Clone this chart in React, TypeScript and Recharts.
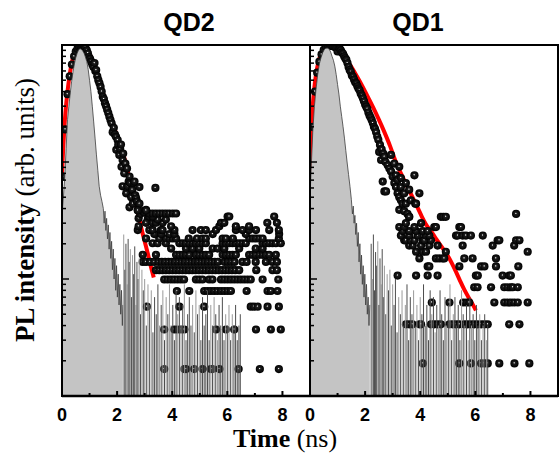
import React from 'react'
import { ComposedChart, Area, Line, Scatter, XAxis, YAxis, ReferenceArea } from 'recharts'

type Pt = [number, number]
type Row = [number, number[]]

const timeTicks = [0, 1, 2, 3, 4, 5, 6, 7, 8]
const intensityTicks = [
  1, 2, 3, 4, 5, 6, 7, 8, 9, 10, 20, 30, 40, 50, 60, 70, 80, 90,
  100, 200, 300, 400, 500, 600, 700, 800, 900, 1000,
]
const decades = [1, 10, 100, 1000]

// ---- QD2 (left panel) ----
const qd2Irf: Pt[] = [
  [0, 35], [0.05, 50], [0.1, 75], [0.15, 130], [0.2, 230], [0.25, 300], [0.3, 390], [0.35, 490],
  [0.4, 590], [0.45, 690], [0.5, 780], [0.55, 850], [0.6, 905], [0.65, 930], [0.7, 920], [0.75, 890],
  [0.8, 850], [0.85, 790], [0.9, 720], [0.95, 620], [1.0, 500], [1.05, 400], [1.1, 300], [1.15, 220],
  [1.2, 160], [1.25, 115], [1.3, 85], [1.35, 62], [1.4, 52], [1.45, 46], [1.5, 40], [1.53, 30],
  [1.56, 38], [1.59, 26], [1.62, 33], [1.65, 22], [1.68, 29], [1.71, 18], [1.74, 25], [1.77, 15],
  [1.8, 21], [1.83, 12], [1.86, 18], [1.89, 10], [1.92, 15], [1.95, 8], [1.98, 13], [2.01, 7],
  [2.04, 11], [2.07, 6], [2.1, 9], [2.13, 5], [2.16, 8], [2.19, 4], [2.21, 6],
]
const qd2IrfNoise: Pt[] = [
  [2.24, 24], [2.28, 12], [2.32, 20], [2.36, 9], [2.4, 22], [2.44, 14], [2.48, 18], [2.52, 7],
  [2.56, 16], [2.6, 11], [2.64, 19], [2.68, 6], [2.72, 14], [2.76, 10], [2.8, 15], [2.85, 5],
  [2.9, 12], [2.95, 8], [3.0, 10], [3.06, 4], [3.12, 9], [3.18, 6], [3.24, 8], [3.3, 3.5],
  [3.36, 7], [3.42, 5], [3.48, 9], [3.54, 4], [3.6, 6], [3.66, 8], [3.72, 3], [3.78, 7],
  [3.84, 5], [3.9, 9], [3.96, 4], [4.02, 6], [4.08, 3], [4.14, 8], [4.2, 5], [4.26, 7],
  [4.32, 4], [4.38, 6], [4.44, 9], [4.5, 3], [4.56, 5], [4.62, 7], [4.68, 4], [4.74, 6],
  [4.8, 3.5], [4.86, 8], [4.92, 5], [4.98, 6], [5.04, 3], [5.1, 7], [5.16, 4], [5.22, 5],
  [5.28, 8], [5.34, 3], [5.4, 6], [5.46, 4], [5.52, 7], [5.58, 5], [5.64, 3], [5.7, 6],
  [5.76, 4], [5.82, 7], [5.88, 3], [5.94, 5], [6.0, 4], [6.06, 6], [6.12, 3], [6.18, 5],
  [6.24, 4], [6.3, 6], [6.36, 3], [6.42, 4], [6.47, 5],
]
const qd2Fit: Pt[] = [
  [0, 80], [0.05, 140], [0.1, 220], [0.15, 310], [0.2, 400], [0.3, 600], [0.4, 780], [0.5, 900],
  [0.6, 965], [0.7, 985], [0.8, 975], [0.9, 920], [1.0, 840], [1.1, 740], [1.2, 650], [1.3, 540],
  [1.4, 450], [1.5, 380], [1.6, 320], [1.7, 270], [1.8, 235], [1.9, 195], [2.0, 165], [2.1, 140],
  [2.2, 120], [2.3, 100], [2.4, 80], [2.5, 64], [2.6, 52], [2.7, 42], [2.8, 33], [2.9, 26],
  [3.0, 21], [3.1, 17], [3.2, 13.5], [3.33, 10.3],
]
const qd2Decay: Pt[] = [
  [0.03, 75], [0.12, 190], [0.2, 380], [0.28, 540], [0.36, 680], [0.44, 800], [0.5, 880], [0.56, 930],
  [0.62, 960], [0.68, 975], [0.74, 985], [0.8, 975], [0.85, 950], [0.9, 900], [0.94, 850], [0.98, 790],
  [1.02, 760], [1.06, 720], [1.1, 680], [1.14, 650], [1.18, 700], [1.21, 600], [1.24, 610], [1.28, 540],
  [1.32, 500], [1.36, 470], [1.4, 438], [1.44, 400], [1.48, 361], [1.52, 345], [1.56, 318], [1.6, 300],
  [1.64, 280], [1.68, 262], [1.72, 244], [1.76, 228], [1.8, 214], [1.84, 180], [1.88, 196], [1.92, 172],
  [1.96, 164], [1.97, 127], [2.02, 154], [2.04, 140], [2.08, 115], [2.11, 130], [2.14, 141], [2.16, 91],
  [2.2, 104], [2.2, 62], [2.22, 118], [2.26, 80], [2.3, 97], [2.33, 54], [2.36, 88], [2.38, 62],
  [2.42, 68], [2.45, 75], [2.45, 41], [2.47, 66], [2.51, 50], [2.55, 58], [2.57, 44], [2.6, 66],
  [2.63, 68], [2.66, 52], [2.69, 49], [2.72, 46], [2.75, 39], [2.78, 33], [2.81, 44], [2.81, 61],
  [2.84, 36], [2.93, 38], [2.99, 37], [3.05, 39], [3.12, 33], [3.39, 60],
]
// tail: discrete count levels and the times where a point sits on them
const qd2Rows: Row[] = [
  [1.7, [3.71, 4.44, 4.5, 4.8, 5.1, 5.4, 5.46, 5.71, 6.41, 7.18, 7.87]],
  [3.7, [3.71, 4.08, 4.2, 4.32, 4.44, 5.59, 5.95, 6.25, 7.04, 7.58, 7.94]],
  [5.8, [3.08, 4.26, 5.16, 6.85, 6.97, 7.1, 7.46, 7.87]],
  [7.9, [4.17, 4.62, 5.16, 5.28, 5.4, 5.52, 5.64, 5.77, 5.89, 6.01, 6.13, 6.7, 7.46, 7.58, 7.82]],
  [9.9, [3.71, 3.83, 3.95, 4.07, 4.19, 4.31, 4.43, 4.86, 4.98, 5.1, 5.34, 5.46, 5.77, 5.89, 6.01, 6.13, 6.25, 6.37, 6.49, 6.61, 6.73, 6.85, 7.28, 7.85]],
  [11.9, [3.41, 3.53, 3.65, 3.77, 3.89, 4.01, 4.13, 4.25, 4.37, 4.49, 4.61, 4.73, 4.85, 4.97, 5.09, 5.21, 5.33, 5.45, 5.57, 5.69, 5.81, 5.93, 6.05, 6.17, 6.29, 6.43, 7.05, 7.64, 7.8]],
  [14, [2.93, 3.05, 3.2, 3.35, 3.5, 3.62, 3.74, 3.86, 3.98, 4.1, 4.22, 4.34, 4.46, 4.58, 4.7, 4.82, 4.94, 5.06, 5.18, 5.3, 5.42, 5.54, 5.66, 5.9, 6.02, 6.14, 6.26, 6.55, 6.7, 7.03, 7.4, 7.64, 7.8]],
  [16.1, [2.93, 3.41, 4.14, 4.26, 4.38, 4.5, 4.62, 4.86, 4.98, 5.1, 5.22, 5.34, 5.83, 5.95, 6.07, 6.19, 6.31, 6.79, 6.91, 7.03, 7.16, 7.28, 7.4, 7.52, 7.76]],
  [18.2, [3.96, 4.5, 4.74, 4.98, 5.47, 5.65, 5.89, 6.43, 7.03, 7.28]],
  [20.2, [3.29, 3.47, 3.77, 4.26, 4.38, 4.5, 4.62, 4.74, 4.86, 4.98, 5.1, 5.22, 5.83, 5.95, 6.07, 6.19, 6.31, 6.43, 6.55, 6.67, 7.28, 7.4, 7.52, 7.64, 7.76, 7.94]],
  [22.2, [3.05, 3.53, 3.78, 3.9, 4.02, 4.14, 4.6, 4.9, 5.1, 5.22, 5.83, 5.95, 6.2, 6.8, 6.92, 7.04, 7.16, 7.28, 7.87]],
  [24.2, [3.35, 3.6, 3.9, 4.08, 5.47, 6.67, 7.88]],
  [26.2, [2.75, 3.17, 3.29, 3.59, 3.65, 4.08, 4.74, 5.04, 5.22, 5.59, 6.31, 6.55, 6.79, 7.04, 7.52, 7.87]],
  [28.2, [2.78, 3.96, 5.71, 6.31, 6.79]],
  [30.2, [3.05, 3.29, 3.41, 3.65, 5.77, 5.89, 7.45, 7.8]],
  [32.2, [3.47, 3.77]],
  [34.2, [3.17, 3.29, 6.01, 6.07, 7.7]],
  [36.3, [3.17, 3.29, 3.41, 3.53, 3.65, 3.77, 3.89, 4.02, 4.14]],
  [38.5, [2.75, 3.05]],
]

// ---- QD1 (right panel) ----
const qd1Irf: Pt[] = [
  [0, 50], [0.04, 85], [0.1, 180], [0.16, 300], [0.22, 420], [0.28, 560], [0.34, 690], [0.4, 780],
  [0.46, 860], [0.52, 915], [0.58, 940], [0.64, 940], [0.7, 920], [0.75, 870], [0.8, 800], [0.85, 740],
  [0.9, 660], [0.95, 560], [1.0, 460], [1.05, 380], [1.1, 300], [1.15, 245], [1.2, 200], [1.25, 160],
  [1.3, 125], [1.35, 98], [1.4, 78], [1.45, 62], [1.5, 48], [1.54, 36], [1.57, 42], [1.6, 30],
  [1.63, 35], [1.66, 24], [1.69, 30], [1.72, 19], [1.75, 25], [1.78, 14], [1.81, 20], [1.84, 11],
  [1.87, 16], [1.9, 9], [1.93, 13], [1.96, 7], [1.99, 11], [2.02, 6], [2.05, 9], [2.08, 5],
  [2.11, 7], [2.14, 4], [2.17, 6],
]
const qd1IrfNoise: Pt[] = [
  [2.22, 20], [2.26, 10], [2.3, 24], [2.34, 8], [2.38, 17], [2.42, 13], [2.46, 21], [2.5, 6],
  [2.54, 15], [2.58, 9], [2.62, 18], [2.66, 7], [2.7, 13], [2.75, 5], [2.8, 11], [2.85, 8],
  [2.9, 12], [2.95, 4], [3.0, 9], [3.05, 6], [3.1, 10], [3.16, 3.5], [3.22, 7], [3.28, 5],
  [3.34, 8], [3.4, 4], [3.46, 6], [3.52, 9], [3.58, 3], [3.64, 7], [3.7, 5], [3.76, 8],
  [3.82, 4], [3.88, 6], [3.94, 3], [4.0, 7], [4.06, 5], [4.12, 9], [4.18, 4], [4.24, 6],
  [4.3, 3], [4.36, 8], [4.42, 5], [4.48, 7], [4.54, 3.5], [4.6, 6], [4.66, 4], [4.72, 8],
  [4.78, 5], [4.84, 3], [4.9, 7], [4.96, 4], [5.02, 6], [5.08, 9], [5.14, 3], [5.2, 5],
  [5.26, 7], [5.32, 4], [5.38, 6], [5.44, 3], [5.5, 8], [5.56, 5], [5.62, 4], [5.68, 6],
  [5.74, 3], [5.8, 7], [5.86, 4], [5.92, 5], [5.98, 3], [6.04, 6], [6.1, 4], [6.16, 5],
  [6.22, 3], [6.28, 4], [6.34, 5], [6.4, 3], [6.45, 4],
]
const qd1Fit: Pt[] = [
  [0, 70], [0.04, 150], [0.08, 250], [0.12, 350], [0.18, 480], [0.25, 620], [0.35, 780], [0.45, 890],
  [0.55, 955], [0.65, 985], [0.75, 990], [0.85, 970], [0.95, 930], [1.1, 860], [1.3, 760], [1.5, 650],
  [1.7, 540], [1.9, 445], [2.1, 360], [2.3, 290], [2.5, 230], [2.7, 180], [2.9, 138], [3.1, 102],
  [3.3, 80], [3.5, 64], [3.7, 51], [3.9, 41], [4.05, 34.5], [4.2, 29.5], [4.4, 25.5], [4.55, 22.5],
  [4.7, 20], [4.85, 17.8], [5.0, 15.8], [5.15, 13.6], [5.3, 11.5], [5.45, 9.6], [5.6, 8.1],
  [5.75, 7], [5.9, 6.1], [6.02, 5.4],
]
const qd1Decay: Pt[] = [
  [0.03, 70], [0.1, 200], [0.18, 400], [0.26, 580], [0.34, 720], [0.42, 830], [0.5, 910], [0.58, 955],
  [0.66, 975], [0.72, 985], [0.78, 985], [0.84, 975], [0.9, 960], [0.96, 945], [1.0, 880], [1.04, 950],
  [1.08, 925], [1.12, 900], [1.16, 860], [1.2, 840], [1.24, 800], [1.28, 770], [1.32, 745], [1.36, 700],
  [1.4, 650], [1.44, 612], [1.48, 590], [1.52, 550], [1.56, 535], [1.6, 505], [1.64, 480], [1.68, 470],
  [1.72, 445], [1.76, 425], [1.8, 410], [1.84, 385], [1.88, 370], [1.92, 350], [1.96, 330], [2.0, 310],
  [2.04, 297], [2.08, 285], [2.12, 265], [2.16, 250], [2.2, 240], [2.24, 228], [2.28, 215], [2.32, 200],
  [2.36, 192], [2.4, 180], [2.44, 165], [2.48, 155], [2.51, 122], [2.54, 140], [2.58, 104], [2.6, 128],
  [2.64, 68], [2.66, 118], [2.7, 111], [2.7, 56], [2.74, 100], [2.76, 56], [2.82, 94], [2.88, 88],
  [2.94, 115], [2.94, 83], [3.0, 75], [3.06, 97], [3.06, 66], [3.12, 77], [3.12, 61], [3.18, 54],
  [3.18, 70], [3.24, 91], [3.24, 50], [3.24, 39], [3.3, 73], [3.3, 61], [3.3, 47], [3.36, 44],
  [3.42, 54], [3.42, 38], [3.48, 66], [3.48, 44], [3.54, 36], [3.6, 58], [3.6, 34], [3.66, 47],
  [3.79, 77], [3.82, 44], [3.85, 44], [3.97, 54],
]
const qd1Rows: Row[] = [
  [1.9, [4.09, 5.42, 5.84, 6.21, 6.33, 6.45, 6.87, 7.42, 7.96]],
  [4.1, [3.48, 3.6, 3.72, 3.97, 4.03, 4.39, 4.51, 4.63, 4.75, 5.06, 5.18, 5.3, 5.42, 5.6, 5.72, 5.84, 5.96, 6.08, 6.21, 6.33, 6.45, 7.23, 7.6]],
  [6.3, [4.42, 5.06, 5.56, 5.68, 5.78, 6.69, 7.05, 7.17, 7.29, 7.41, 7.54, 7.9]],
  [8.5, [5.96, 6.08, 6.57, 7.05, 7.17, 7.29, 7.36, 7.54]],
  [10.7, [3.18, 3.85, 4.27, 4.63, 6.02, 6.09, 6.99, 7.23, 7.29]],
  [12.8, [4.27, 4.33, 5.42, 6.21, 6.33, 6.75, 7.56]],
  [15, [3.97, 4.57, 4.69, 4.81, 4.87, 5.6, 5.9, 6.75]],
  [17.1, [3.85, 4.09, 4.21, 4.93, 7.9]],
  [19.3, [3.6, 3.73, 4.03, 4.33, 4.63, 5.54, 6.63, 7.41]],
  [21.4, [3.42, 3.48, 3.66, 3.79, 4.09, 4.15, 4.39, 6.81, 6.87, 7.48, 7.6]],
  [23.5, [3.3, 3.6, 3.91, 4.21, 4.33, 5.3, 5.36, 5.54, 5.66, 5.84, 6.27]],
  [25.7, [3.36, 3.6, 3.85, 4.09, 4.27]],
  [27.8, [3.24, 3.42, 3.79, 4.51, 4.57, 5.42, 5.48]],
  [30, [3.48, 4.03]],
  [34, [3.6, 4.75, 4.84, 4.93]],
  [36, [7.48]],
]

// layout of one panel (px)
const PLOT_W = 248
const PLOT_H = 351
const AXIS_W = 10
const AXIS_H = 40
const M_TOP = 10
const M_RIGHT = 2
const PLOT_BOTTOM = M_TOP + PLOT_H

const toRows = (pts: Pt[]) => pts.map(([t, v]) => ({ t, v }))
const withRows = (pts: Pt[], rows: Row[]) =>
  toRows(pts).concat(rows.flatMap(([v, ts]) => ts.map((t) => ({ t, v }))))

const XTick = (p: any) => {
  const v = p.payload.value
  const major = v % 2 === 0
  return (
    <g>
      <line x1={p.x} x2={p.x} y1={p.y} y2={p.y - (major ? 5 : 3)} stroke="#000" strokeWidth={2} />
      {major && (
        <text x={p.x} y={p.y + 25} textAnchor="middle" fontFamily="'Liberation Sans', Arial" fontWeight="bold" fontSize={18} fill="#000">
          {v}
        </text>
      )}
    </g>
  )
}

const YTick = (p: any) => {
  const major = decades.includes(p.payload.value)
  return <line x1={p.x} x2={p.x + (major ? 7 : 4)} y1={p.y} y2={p.y} stroke="#000" strokeWidth={1.5} />
}

const Spike = (p: any) => (
  <line
    x1={p.cx} x2={p.cx} y1={p.cy} y2={PLOT_BOTTOM}
    stroke={Math.round(p.cx) % 3 === 0 ? '#9a9a9a' : '#4d4d4d'}
    strokeWidth={1}
  />
)

function Panel({ left, id, irf, noise, fit, points }: { left: number; id: string; irf: Pt[]; noise: Pt[]; fit: Pt[]; points: { t: number; v: number }[] }) {
  // shaded black bead with a small specular spot
  const Ball = (p: any) => <circle cx={p.cx} cy={p.cy} r={4.1} fill={`url(#${id})`} />
  return (
    <div style={{ position: 'absolute', left, top: 35 }}>
      <ComposedChart
        width={AXIS_W + PLOT_W + M_RIGHT}
        height={M_TOP + PLOT_H + AXIS_H}
        margin={{ top: M_TOP, right: M_RIGHT, bottom: 0, left: 0 }}
      >
        <defs>
          <radialGradient id={id} cx="50%" cy="50%" r="50%" fx="46%" fy="42%">
            <stop offset="0%" stopColor="#ffffff" />
            <stop offset="10%" stopColor="#b0b0b0" />
            <stop offset="26%" stopColor="#1e1e1e" />
            <stop offset="100%" stopColor="#000000" />
          </radialGradient>
        </defs>
        <XAxis
          dataKey="t" type="number" domain={[0, 9]} allowDataOverflow ticks={timeTicks} interval={0}
          height={AXIS_H} tickSize={0} tickMargin={0} tick={XTick}
          axisLine={{ stroke: '#000', strokeWidth: 2.5 }}
        />
        <YAxis
          dataKey="v" type="number" scale="log" domain={[1, 1000]} allowDataOverflow ticks={intensityTicks} interval={0}
          width={AXIS_W} tickSize={0} tickMargin={0} tick={YTick}
          axisLine={{ stroke: '#000', strokeWidth: 2 }}
        />
        <Line
          data={toRows(fit)} dataKey="v" type="monotone" stroke="#ff0000" strokeWidth={4}
          dot={false} isAnimationActive={false} zIndex={40}
        />
        <Scatter data={points} dataKey="v" shape={Ball} isAnimationActive={false} zIndex={50} />
        <Area
          data={toRows(irf)} dataKey="v" type="linear" fill="#c4c4c4" fillOpacity={1}
          stroke="#3c3c3c" strokeWidth={0.8} isAnimationActive={false} zIndex={100}
        />
        <Scatter data={toRows(noise)} dataKey="v" shape={Spike} isAnimationActive={false} zIndex={150} />
        <ReferenceArea x1={0} x2={9} y1={1} y2={1000} fill="none" stroke="#000" strokeWidth={2} ifOverflow="visible" zIndex={450} />
      </ComposedChart>
    </div>
  )
}

export default function App() {
  return (
    <div style={{ position: 'absolute', left: 0, top: 0, width: 560, height: 454, background: '#fff', overflow: 'hidden' }}>
      <Panel left={52} id="ballQd2" irf={qd2Irf} noise={qd2IrfNoise} fit={qd2Fit} points={withRows(qd2Decay, qd2Rows)} />
      <Panel left={300} id="ballQd1" irf={qd1Irf} noise={qd1IrfNoise} fit={qd1Fit} points={withRows(qd1Decay, qd1Rows)} />
      <svg width={560} height={454} style={{ position: 'absolute', left: 0, top: 0, pointerEvents: 'none' }}>
        <text x={189} y={31} textAnchor="middle" fontFamily="'Liberation Sans', Arial" fontWeight="bold" fontSize={25}>QD2</text>
        <text x={418} y={31} textAnchor="middle" fontFamily="'Liberation Sans', Arial" fontWeight="bold" fontSize={25}>QD1</text>
        <text x={285} y={447} textAnchor="middle" fontFamily="'Liberation Serif', 'Times New Roman'" fontSize={26}>
          <tspan fontWeight="bold">Time</tspan> (ns)
        </text>
        <text transform="translate(34,210) rotate(-90)" textAnchor="middle" fontFamily="'Liberation Serif', 'Times New Roman'" fontSize={27}>
          <tspan fontWeight="bold">PL intensity</tspan> (arb. units)
        </text>
      </svg>
    </div>
  )
}
